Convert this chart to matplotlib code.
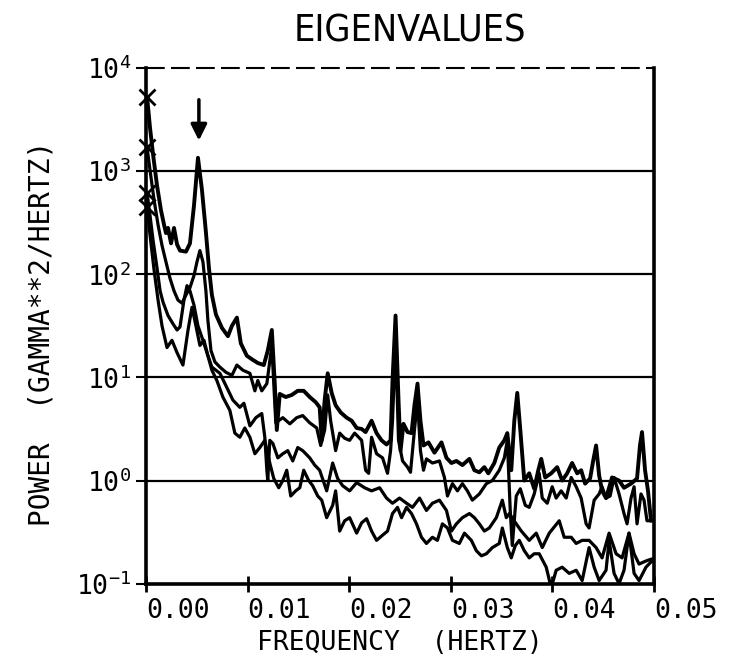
import numpy as np
import matplotlib.pyplot as plt

plt.rcParams['font.family'] = ['DejaVu Sans Mono']
plt.rcParams['mathtext.fontset'] = 'custom'
plt.rcParams['mathtext.rm'] = 'DejaVu Sans Mono'

# --- spectra: [frequency (mHz), log10 power] ---
eig1 = np.array([
    [0.10, 3.72], [0.39, 3.42], [0.69, 3.16], [1.08, 2.86], [1.47, 2.62], [1.77, 2.48],
    [1.96, 2.40], [2.16, 2.45], [2.46, 2.30], [2.75, 2.45], [3.05, 2.29], [3.34, 2.23],
    [3.93, 2.22], [4.32, 2.30], [4.72, 2.67], [5.11, 3.13], [5.50, 2.82], [5.89, 2.41],
    [6.19, 2.06], [6.48, 1.80], [6.88, 1.61], [7.47, 1.48], [8.06, 1.40], [8.45, 1.50],
    [8.94, 1.58], [9.33, 1.33], [9.92, 1.21], [10.51, 1.17], [11.00, 1.14], [11.59, 1.12],
    [11.98, 1.26], [12.38, 1.46], [12.67, 0.94], [12.87, 0.49], [13.16, 0.84], [13.75, 0.81],
    [14.34, 0.83], [14.93, 0.87], [15.52, 0.87], [16.11, 0.81], [16.70, 0.76], [17.09, 0.71],
    [17.29, 0.39], [17.58, 0.78], [17.88, 1.04], [18.27, 0.85], [18.66, 0.73], [19.16, 0.66],
    [19.74, 0.61], [20.24, 0.58], [20.73, 0.51], [21.22, 0.50], [21.61, 0.47], [22.20, 0.58],
    [22.69, 0.46], [23.18, 0.39], [23.67, 0.35], [24.07, 0.39], [24.26, 0.97], [24.56, 1.60],
    [24.85, 0.78], [25.05, 0.29], [25.34, 0.55], [25.74, 0.47], [26.13, 0.46], [26.42, 0.73],
    [26.72, 0.94], [27.01, 0.58], [27.31, 0.34], [27.80, 0.37], [28.39, 0.27], [29.08, 0.37],
    [29.57, 0.22], [30.06, 0.17], [30.55, 0.19], [31.14, 0.15], [31.83, 0.21], [32.32, 0.10],
    [32.81, 0.08], [33.30, 0.13], [33.69, 0.07], [34.28, 0.17], [34.77, 0.32], [35.27, 0.39],
    [35.56, 0.46], [35.95, 0.10], [36.25, 0.58], [36.54, 0.85], [36.84, 0.49], [37.23, 0.00],
    [37.72, 0.07], [38.21, -0.08], [38.61, 0.10], [38.90, 0.21], [39.29, 0.03], [39.88, 0.07],
    [40.47, 0.13], [40.96, 0.00], [41.45, 0.07], [41.94, 0.17], [42.44, 0.07], [42.83, 0.10],
    [43.22, -0.03], [43.71, 0.02], [44.01, 0.19], [44.30, 0.34], [44.60, 0.05], [44.89, -0.10],
    [45.28, -0.17], [45.87, 0.03], [46.56, 0.00], [47.05, -0.07], [47.74, -0.03], [48.33, 0.02],
    [48.62, 0.34], [48.82, 0.47], [49.12, 0.10], [49.41, -0.10], [49.71, -0.39],
])

eig2 = np.array([
    [0.10, 3.23], [0.39, 3.01], [0.79, 2.72], [1.18, 2.48], [1.57, 2.28], [1.96, 2.12],
    [2.36, 1.96], [2.75, 1.84], [3.14, 1.75], [3.54, 1.72], [3.93, 1.80], [4.32, 1.87],
    [4.72, 1.99], [5.01, 2.12], [5.30, 2.23], [5.60, 2.12], [5.89, 1.84], [6.09, 1.55],
    [6.39, 1.26], [6.78, 1.15], [7.27, 1.10], [7.86, 1.05], [8.45, 1.02], [8.94, 1.12],
    [9.53, 1.07], [10.22, 1.04], [10.71, 0.87], [11.00, 0.97], [11.39, 0.87], [11.89, 0.94],
    [12.38, 1.31], [12.77, 0.56], [13.46, 0.61], [14.15, 0.55], [14.83, 0.61], [15.42, 0.63],
    [16.11, 0.56], [16.80, 0.51], [17.19, 0.34], [17.58, 0.49], [17.88, 0.83], [18.17, 0.58],
    [18.66, 0.29], [19.06, 0.46], [19.55, 0.41], [20.04, 0.39], [20.53, 0.46], [21.22, 0.39],
    [21.61, 0.10], [21.91, 0.07], [22.20, 0.42], [22.69, 0.26], [23.28, 0.22], [23.77, 0.07],
    [24.07, 0.29], [24.26, 0.58], [24.56, 1.36], [24.85, 0.39], [25.25, 0.19], [25.74, 0.13],
    [26.03, 0.08], [26.42, 0.49], [26.72, 0.78], [27.01, 0.29], [27.31, 0.10], [27.60, 0.21],
    [28.19, 0.17], [28.88, 0.19], [29.37, 0.03], [29.67, -0.15], [30.16, -0.03], [30.65, -0.10],
    [31.14, -0.03], [31.63, -0.10], [32.12, -0.19], [32.81, -0.13], [33.50, -0.03], [34.09, 0.00],
    [34.77, 0.10], [35.27, 0.22], [35.56, 0.39], [35.85, -0.29], [36.05, -0.63], [36.44, -0.15],
    [36.84, -0.08], [37.33, -0.24], [37.72, -0.26], [38.21, -0.13], [38.70, 0.07], [39.00, -0.17],
    [39.49, -0.22], [39.98, -0.06], [40.37, -0.17], [40.86, -0.10], [41.36, -0.17], [41.85, 0.03],
    [42.34, -0.06], [42.83, -0.17], [43.32, -0.42], [43.61, -0.46], [44.11, -0.19], [44.60, -0.13],
    [44.89, -0.06], [45.28, -0.17], [45.68, -0.15], [46.07, 0.03], [46.56, -0.13], [47.05, -0.32],
    [47.35, -0.42], [47.74, -0.17], [48.04, -0.06], [48.33, -0.42], [48.72, -0.13], [49.02, -0.19],
    [49.31, -0.39], [49.71, -0.39],
])

eig3 = np.array([
    [0.10, 2.79], [0.39, 2.57], [0.69, 2.33], [1.08, 2.06], [1.38, 1.84], [1.67, 1.73],
    [2.16, 1.60], [2.65, 1.52], [3.05, 1.46], [3.34, 1.49], [3.73, 1.75], [4.03, 1.89],
    [4.32, 1.84], [4.72, 1.70], [5.11, 1.50], [5.60, 1.36], [6.09, 1.21], [6.48, 1.10],
    [7.27, 1.04], [7.96, 0.90], [8.55, 0.78], [9.23, 0.71], [9.63, 0.75], [10.22, 0.53],
    [10.81, 0.61], [11.39, 0.65], [11.69, 0.42], [11.89, 0.10], [11.98, 0.00], [12.18, 0.39],
    [12.48, 0.36], [12.97, 0.22], [13.46, 0.26], [13.95, 0.29], [14.44, 0.19], [14.93, 0.32],
    [15.42, 0.29], [16.11, 0.22], [16.60, 0.15], [17.09, 0.10], [17.78, -0.10], [18.37, 0.17],
    [18.86, 0.02], [19.35, -0.05], [20.04, -0.10], [20.73, -0.02], [21.51, -0.07], [22.20, -0.10],
    [22.99, -0.07], [23.67, -0.17], [24.26, -0.22], [24.95, -0.17], [25.64, -0.22], [26.23, -0.26],
    [26.92, -0.17], [27.60, -0.29], [28.19, -0.22], [28.88, -0.19], [29.57, -0.29], [30.06, -0.49],
    [30.55, -0.42], [31.14, -0.36], [31.83, -0.32], [32.32, -0.36], [32.81, -0.42], [33.30, -0.49],
    [33.79, -0.46], [34.48, -0.36], [35.07, -0.19], [35.46, -0.36], [35.76, -0.32], [36.44, -0.42],
    [36.94, -0.49], [37.72, -0.58], [38.41, -0.51], [39.00, -0.65], [39.69, -0.51], [40.67, -0.39],
    [41.16, -0.55], [41.85, -0.55], [42.34, -0.61], [42.93, -0.58], [43.61, -0.58], [44.30, -0.65],
    [44.89, -0.75], [45.58, -0.51], [46.27, -0.71], [46.86, -0.75], [47.54, -0.51], [48.04, -0.71],
    [48.53, -0.81], [49.21, -0.78], [49.80, -0.76],
])

eig4 = np.array([
    [0.10, 2.65], [0.39, 2.38], [0.79, 2.04], [1.18, 1.75], [1.57, 1.50], [2.06, 1.29],
    [2.55, 1.36], [3.05, 1.24], [3.63, 1.12], [4.13, 1.46], [4.52, 1.68], [4.91, 1.50],
    [5.30, 1.31], [5.70, 1.36], [6.09, 1.21], [6.48, 1.07], [6.97, 0.97], [7.56, 0.81],
    [8.25, 0.68], [8.74, 0.46], [9.23, 0.42], [9.72, 0.51], [10.22, 0.42], [10.71, 0.26],
    [11.20, 0.32], [11.69, 0.39], [12.18, 0.17], [12.57, 0.02], [13.06, -0.07], [13.46, 0.00],
    [13.85, 0.10], [14.24, -0.15], [14.73, -0.10], [15.13, -0.07], [15.52, 0.10], [16.01, 0.00],
    [16.40, -0.05], [16.90, -0.15], [17.29, -0.19], [17.78, -0.36], [18.37, -0.24], [18.66, -0.10],
    [19.06, -0.49], [19.55, -0.39], [20.04, -0.36], [20.73, -0.51], [21.22, -0.41], [21.71, -0.37],
    [22.20, -0.49], [22.69, -0.58], [23.28, -0.53], [23.77, -0.49], [24.26, -0.32], [24.75, -0.26],
    [25.15, -0.36], [25.64, -0.26], [26.13, -0.32], [26.62, -0.42], [27.11, -0.55], [27.60, -0.61],
    [28.19, -0.55], [28.68, -0.58], [29.17, -0.42], [29.67, -0.46], [30.16, -0.58], [30.84, -0.61],
    [31.34, -0.51], [32.02, -0.58], [32.51, -0.68], [33.01, -0.73], [33.50, -0.71], [34.09, -0.65],
    [34.77, -0.61], [35.07, -0.46], [35.56, -0.65], [35.95, -0.75], [36.35, -0.63], [36.74, -0.58],
    [37.23, -0.68], [37.72, -0.75], [38.21, -0.71], [38.70, -0.71], [39.39, -0.84], [39.88, -1.04],
    [40.37, -0.87], [40.96, -0.84], [41.65, -0.90], [42.34, -0.87], [42.93, -0.97], [43.61, -0.65],
    [44.11, -0.84], [44.60, -0.97], [45.28, -0.87], [45.58, -0.58], [46.07, -0.90], [46.56, -1.00],
    [47.05, -0.87], [47.54, -0.51], [48.04, -0.90], [48.53, -0.97], [49.21, -0.84], [49.80, -0.78],
])

xticks = [0.0, 0.01, 0.02, 0.03, 0.04, 0.05]
xticklabels = ['0.00', '0.01', '0.02', '0.03', '0.04', '0.05']
yticks = [0.1, 1, 10, 100, 1000, 10000]
yticklabels = [r'$\mathregular{10^{-1}}$', r'$\mathregular{10^{0}}$', r'$\mathregular{10^{1}}$',
               r'$\mathregular{10^{2}}$', r'$\mathregular{10^{3}}$', r'$\mathregular{10^{4}}$']
peak_freq = 0.0052

fig = plt.figure(figsize=(7.34, 6.61), dpi=100)
ax = fig.add_axes([0.199, 0.117, 0.692, 0.780])

for spec, lw in [(eig1, 2.8), (eig2, 2.3), (eig3, 2.3), (eig4, 2.3)]:
    f = spec[:, 0] / 1000.0
    p = 10 ** spec[:, 1]
    ax.plot(f, p, color='k', lw=lw, solid_joinstyle='round', solid_capstyle='round')
    ax.plot(f[0], p[0], marker='x', ms=11, mew=2, color='k', clip_on=False)

ax.set_yscale('log')
ax.set_xlim(0, 0.05)
ax.set_ylim(0.1, 1e4)

# decade lines and dashed top border
for v in [1, 10, 100, 1000]:
    ax.axhline(v, color='k', lw=1.6)
ax.axhline(1e4, color='k', lw=1.5, ls=(0, (9, 3)), clip_on=False)
ax.spines['top'].set_visible(False)
for s in ['left', 'right', 'bottom']:
    ax.spines[s].set_linewidth(2.6)

ax.set_xticks(xticks)
ax.set_xticklabels(xticklabels, fontsize=19)
for lab in ax.get_xticklabels():
    lab.set_horizontalalignment('left')
ax.tick_params(axis='x', direction='inout', length=11, width=2, pad=5)
ax.set_yticks(yticks)
ax.set_yticklabels(yticklabels, fontsize=19)
ax.tick_params(axis='y', direction='out', length=7, width=1.5, pad=4)
ax.minorticks_off()

ax.annotate('', xy=(peak_freq, 10 ** 3.27), xytext=(peak_freq, 10 ** 3.72),
            arrowprops=dict(arrowstyle='-|>', color='k', lw=2.5, mutation_scale=24))

fig.text(0.558, 0.953, 'EIGENVALUES', ha='center', va='center', fontsize=27,
         family=['DejaVu Sans'], fontstretch='condensed')
ax.set_xlabel('FREQUENCY  (HERTZ)', fontsize=19, labelpad=4)
fig.text(0.056, 0.495, 'POWER  (GAMMA**2/HERTZ)', rotation=90, ha='center', va='center',
         fontsize=20)

fig.savefig('out.png', dpi=100)
